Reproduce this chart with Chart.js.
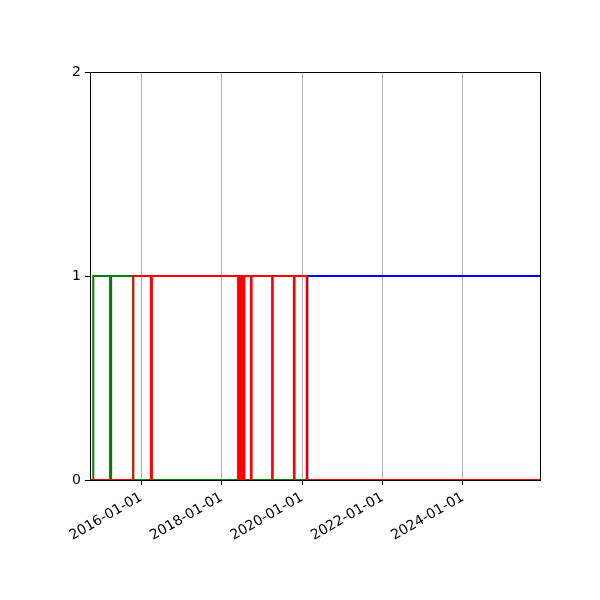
<!DOCTYPE html>
<html>
<head>
<meta charset="utf-8">
<script src="https://cdn.jsdelivr.net/npm/chart.js@4"></script>
<style>
  html, body { margin: 0; padding: 0; background: #fff; }
  canvas { display: block; }
</style>
</head>
<body>
<canvas id="chart" width="600" height="600"></canvas>
<script>
// axis range and tick labels
const xMinDate = "2014-09-24";
const xMaxDate = "2025-11-30";
const xTickDates = ["2016-01-01", "2018-01-01", "2020-01-01", "2022-01-01", "2024-01-01"];
const yTicks = [0, 1, 2];

// step series: value holds from each date until the next one
const blueDates = ["2014-09-24", "2020-02-18", "2025-11-30"];
const blueValues = [0, 1, 1];

const greenDates = ["2014-09-24", "2014-10-24", "2015-03-25", "2015-04-04", "2015-10-21", "2020-02-12"];
const greenValues = [0, 1, 0, 1, 0, 0];

const redDates = [
  "2014-09-24", "2015-10-22",
  "2016-03-30", "2016-04-08",
  "2018-05-30", "2018-06-05", "2018-06-11", "2018-06-18", "2018-06-24",
  "2018-07-01", "2018-07-07", "2018-07-14", "2018-07-20", "2018-07-27",
  "2018-09-24", "2018-09-30",
  "2019-04-04", "2019-04-10",
  "2019-10-19", "2019-10-25",
  "2020-02-12", "2025-11-30",
];
const redValues = [
  0, 1,
  0, 1,
  0, 1, 0, 1, 0,
  1, 0, 1, 0, 1,
  0, 1,
  0, 1,
  0, 1,
  0, 0,
];

const toTime = (d) => Date.parse(d + "T00:00:00Z");
const pad2 = (n) => String(n).padStart(2, "0");
const fmtDate = (t) => {
  const d = new Date(t);
  return d.getUTCFullYear() + "-" + pad2(d.getUTCMonth() + 1) + "-" + pad2(d.getUTCDate());
};
const toPoints = (dates, values) => dates.map((d, i) => ({ x: toTime(d), y: values[i] }));

const frame = {
  id: "frame",
  afterDraw(chart) {
    const { ctx, chartArea: a } = chart;
    ctx.save();
    ctx.strokeStyle = "#000";
    ctx.lineWidth = 1;
    ctx.strokeRect(Math.round(a.left) + 0.5, Math.round(a.top) + 0.5,
      Math.round(a.right - a.left), Math.round(a.bottom - a.top));
    ctx.restore();
  },
};

const lineStyle = (color) => ({
  borderColor: color,
  backgroundColor: color,
  borderWidth: 2,
  pointRadius: 0,
  fill: false,
  stepped: "before",
  borderJoinStyle: "miter",
});

new Chart(document.getElementById("chart").getContext("2d"), {
  type: "line",
  data: {
    datasets: [
      { label: "blue", data: toPoints(blueDates, blueValues), order: 3, ...lineStyle("#0000ff") },
      { label: "green", data: toPoints(greenDates, greenValues), order: 2, ...lineStyle("#008000") },
      { label: "red", data: toPoints(redDates, redValues), order: 1, ...lineStyle("#ff0000") },
    ],
  },
  options: {
    responsive: false,
    animation: false,
    layout: { padding: { top: 72, right: 60, left: 0, bottom: 0 } },
    plugins: { legend: { display: false }, tooltip: { enabled: false } },
    scales: {
      x: {
        type: "linear",
        min: toTime(xMinDate),
        max: toTime(xMaxDate),
        afterBuildTicks: (scale) => {
          scale.ticks = xTickDates.map((d) => ({ value: toTime(d) }));
        },
        afterFit: (scale) => { scale.height = 120; },
        ticks: {
          autoSkip: false,
          minRotation: 30,
          maxRotation: 30,
          padding: 4,
          color: "#000",
          font: { family: "DejaVu Sans", size: 14 },
          callback: (v) => fmtDate(v),
        },
        grid: { color: "#b0b0b0", lineWidth: 1, tickColor: "#000", tickLength: 5 },
        border: { display: false },
      },
      y: {
        min: 0,
        max: 2,
        afterBuildTicks: (scale) => {
          scale.ticks = yTicks.map((v) => ({ value: v }));
        },
        afterFit: (scale) => { scale.width = 90; },
        ticks: {
          padding: 4,
          color: "#000",
          font: { family: "DejaVu Sans", size: 14 },
        },
        grid: { drawOnChartArea: false, tickColor: "#000", tickLength: 5 },
        border: { display: false },
      },
    },
  },
  plugins: [frame],
});
</script>
</body>
</html>
